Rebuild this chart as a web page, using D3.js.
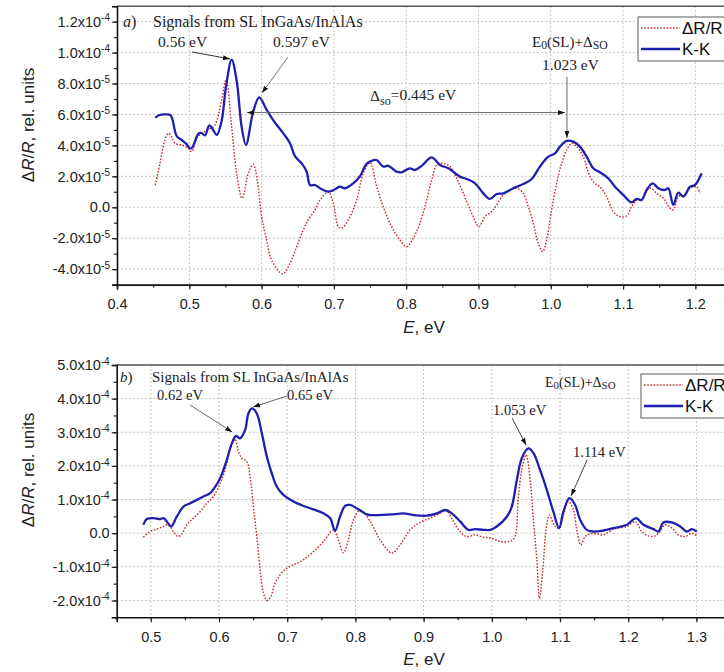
<!DOCTYPE html>
<html><head><meta charset="utf-8">
<script src="https://cdn.jsdelivr.net/npm/d3@7"></script>
<style>
html,body{margin:0;padding:0;background:#fff;}
svg{display:block;}
</style>
</head><body>
<svg id="chart" width="724" height="672"></svg>
<script>
// ---------- DATA ----------
// Panel a) : energy (eV) and values in units of 1e-5
const aKK_E = [0.453,0.458,0.466,0.474,0.4826,0.4895,0.496,0.501,0.5045,0.5125,0.517,0.5217,0.5277,0.533,0.538,0.5448,0.5508,0.5586,0.5655,0.5724,0.5784,0.5885,0.5968,0.607,0.616,0.63,0.6393,0.6462,0.6555,0.6624,0.667,0.6739,0.6808,0.6923,0.6992,0.7084,0.7154,0.7268,0.736,0.745,0.752,0.7592,0.7683,0.7753,0.7868,0.7937,0.8052,0.8122,0.8214,0.8353,0.8467,0.8583,0.8744,0.8836,0.8952,0.9067,0.9159,0.9252,0.9344,0.9481,0.962,0.9736,0.985,0.9966,1.0058,1.0127,1.022,1.0311,1.0404,1.0496,1.0588,1.068,1.0796,1.0888,1.1003,1.1119,1.1188,1.1257,1.1326,1.141,1.1487,1.158,1.1626,1.1695,1.1764,1.1833,1.1926,1.1995,1.2087];
const aKK_V = [5.8,5.95,6.0,5.95,4.6,4.35,4.1,3.8,3.9,4.75,4.8,4.65,5.3,5.0,4.67,5.6,7.8,9.55,8.2,5.2,4.03,6.2,7.1,6.3,5.64,4.78,4.14,3.3,2.84,2.3,1.44,1.44,1.23,1.01,1.1,1.33,1.23,1.55,2.0,2.8,3.0,3.05,2.63,2.68,2.3,2.26,2.52,2.41,2.68,3.23,2.73,2.52,1.98,1.83,1.55,0.9,0.54,0.86,0.9,1.23,1.5,1.83,2.63,3.27,3.48,3.92,4.29,4.24,3.92,3.27,2.52,2.26,1.87,1.33,0.8,0.32,0.54,0.47,1.12,1.55,1.23,1.12,1.23,0.15,0.94,0.69,1.33,1.44,2.2];
const aDR_E = [0.453,0.4595,0.4664,0.471,0.4756,0.4802,0.4895,0.4986,0.5033,0.5102,0.5171,0.525,0.535,0.545,0.551,0.558,0.5655,0.5733,0.5816,0.5885,0.594,0.6,0.607,0.6138,0.6292,0.6393,0.6485,0.6577,0.6646,0.6739,0.6808,0.6923,0.6992,0.7061,0.7107,0.72,0.7315,0.7407,0.75,0.7592,0.7683,0.7798,0.7914,0.8006,0.8098,0.8191,0.8283,0.8353,0.8422,0.851,0.8606,0.8698,0.879,0.8906,0.9007,0.909,0.9182,0.9252,0.9344,0.9436,0.9528,0.962,0.9688,0.9758,0.9827,0.9888,0.9942,1.0012,1.0081,1.015,1.022,1.0289,1.0358,1.045,1.0542,1.0611,1.068,1.0773,1.0865,1.0957,1.105,1.1119,1.1188,1.1257,1.1372,1.1465,1.1557,1.1649,1.1695,1.1764,1.1856,1.1926,1.2018,1.2064];
const aDR_V = [1.44,2.84,4.35,4.78,4.56,4.14,4.03,3.81,3.6,4.46,4.78,5.0,5.3,7.0,8.3,5.5,2.2,0.58,2.2,2.78,1.76,-0.6,-2.11,-3.41,-4.31,-3.62,-2.55,-1.47,-0.82,-0.17,0.47,1.0,0.26,-1.25,-1.36,-0.82,0.47,2.2,2.9,1.33,0.04,-1.25,-2.11,-2.55,-2.0,-1.03,0.47,1.76,2.73,2.84,2.63,1.87,0.9,-0.39,-1.25,-0.6,-0.28,0.15,0.8,1.12,1.23,0.9,0.04,-1.03,-2.33,-2.87,-2.11,-0.17,1.55,2.84,3.7,4.14,3.92,3.27,1.98,1.55,1.33,0.69,-0.28,-0.6,-0.56,0.04,0.47,0.54,1.23,0.9,0.58,-0.06,-0.17,0.69,0.8,1.23,1.33,0.9];

// Panel b) : energy (eV) and values in units of 1e-4
const bKK_E = [0.4891,0.4941,0.5038,0.5136,0.5185,0.5235,0.5298,0.5381,0.5478,0.5576,0.5675,0.5771,0.587,0.5943,0.6016,0.6114,0.6188,0.6251,0.6309,0.6383,0.6431,0.6481,0.6554,0.6628,0.6701,0.6774,0.6848,0.6944,0.7091,0.7238,0.7384,0.7531,0.7629,0.7702,0.7776,0.7849,0.7922,0.802,0.8167,0.8216,0.8557,0.8704,0.885,0.9047,0.9194,0.9315,0.9413,0.9535,0.9657,0.9755,0.9877,0.9975,1.0073,1.022,1.0293,1.0367,1.044,1.0537,1.0611,1.0708,1.0806,1.0903,1.0987,1.105,1.1138,1.1222,1.1295,1.1393,1.149,1.1637,1.1783,1.198,1.2116,1.2223,1.237,1.2443,1.2516,1.2639,1.2761,1.2859,1.2932,1.3006];
const bKK_V = [0.25,0.42,0.45,0.42,0.45,0.35,0.2,0.49,0.79,0.89,0.99,1.09,1.19,1.38,1.63,2.18,2.67,2.89,2.82,3.07,3.56,3.71,3.56,2.97,2.28,1.78,1.38,1.14,0.94,0.81,0.71,0.59,0.45,0.07,0.5,0.81,0.84,0.74,0.56,0.54,0.56,0.59,0.54,0.52,0.59,0.69,0.59,0.35,0.1,0.12,0.1,0.1,0.2,0.49,0.79,1.58,2.23,2.52,2.38,1.88,1.29,0.64,0.15,0.64,1.04,0.84,0.4,0.1,0.05,0.08,0.15,0.25,0.45,0.25,0.12,0.05,0.32,0.32,0.2,0.05,0.12,0.05];
const bDR_E = [0.4891,0.499,0.5088,0.5185,0.5258,0.5331,0.5396,0.5455,0.5528,0.5625,0.5723,0.5821,0.5918,0.6016,0.6089,0.6163,0.6236,0.6285,0.6334,0.6408,0.6456,0.6504,0.6554,0.6603,0.6651,0.6701,0.676,0.6823,0.6896,0.6994,0.7091,0.7238,0.7384,0.7531,0.7678,0.7751,0.7824,0.7897,0.7971,0.8069,0.8216,0.8362,0.8534,0.8655,0.8802,0.8949,0.9095,0.9242,0.9331,0.9437,0.9535,0.9633,0.9755,0.9877,1.0,1.0122,1.0244,1.0328,1.039,1.044,1.0503,1.0562,1.061,1.066,1.0698,1.0748,1.0796,1.0845,1.0927,1.0987,1.105,1.1123,1.1197,1.1246,1.1305,1.1368,1.1441,1.1539,1.1637,1.1783,1.198,1.2101,1.22,1.2296,1.2394,1.2467,1.2541,1.2639,1.2736,1.2834,1.2932,1.3006];
const bDR_V = [-0.12,0.05,0.12,0.2,0.25,0.05,-0.1,-0.02,0.25,0.45,0.64,0.89,1.09,1.48,1.88,2.48,2.79,2.42,2.23,2.13,1.68,0.79,-0.1,-1.09,-1.78,-2.0,-1.88,-1.48,-1.24,-1.04,-0.94,-0.79,-0.55,-0.25,0.1,-0.2,-0.58,-0.2,0.4,0.69,0.35,-0.2,-0.59,-0.35,0.1,0.32,0.45,0.59,0.67,0.35,0.05,-0.1,-0.05,-0.12,-0.15,-0.25,-0.25,-0.15,1.09,1.88,2.33,1.58,0.4,-0.79,-1.93,-1.09,0.1,0.54,0.2,0.15,0.54,0.94,0.69,0.1,-0.35,-0.1,-0.02,-0.02,-0.05,0.12,0.2,0.35,0.05,-0.08,-0.08,0.05,0.25,0.15,-0.05,-0.1,0,-0.08];

// Ticks
const aXTicks = [0.4,0.5,0.6,0.7,0.8,0.9,1.0,1.1,1.2];
const aXTickLabels = ["0.4","0.5","0.6","0.7","0.8","0.9","1.0","1.1","1.2"];
const aYTicks = [-4,-2,0,2,4,6,8,10,12];
const aYTickMant = ["-4.0","-2.0","0.0","2.0","4.0","6.0","8.0","1.0","1.2"];
const aYTickExp  = ["-5","-5","","-5","-5","-5","-5","-4","-4"];
const bXTicks = [0.5,0.6,0.7,0.8,0.9,1.0,1.1,1.2,1.3];
const bXTickLabels = ["0.5","0.6","0.7","0.8","0.9","1.0","1.1","1.2","1.3"];
const bYTicks = [-2,-1,0,1,2,3,4,5];
const bYTickMant = ["-2.0","-1.0","0.0","1.0","2.0","3.0","4.0","5.0"];
const bYTickExp  = ["-4","-4","","-4","-4","-4","-4","-4"];

const seriesNames = ["\u0394R/R","K-K"];

// ---------- DRAW ----------
const svg = d3.select("#chart");
const SANS = "'Liberation Sans', Arial, sans-serif";
const SERIF = "'Liberation Serif', 'Times New Roman', serif";
const RED = "#c62a2f", BLUE = "#1f1fb0";

const defs = svg.append("defs");
defs.append("marker").attr("id","ah").attr("viewBox","0 0 10 10").attr("refX",10).attr("refY",5)
  .attr("markerWidth",7).attr("markerHeight",7).attr("orient","auto-start-reverse").attr("markerUnits","userSpaceOnUse")
  .append("path").attr("d","M0,1.5 L10,5 L0,8.5 Z").attr("fill","#111");

function panel(cfg){
  const g = svg.append("g");
  const x = d3.scaleLinear().domain(cfg.xDomain).range(cfg.xRange);
  const y = d3.scaleLinear().domain(cfg.yDomain).range(cfg.yRange);
  const [x0,x1] = cfg.xRange, [yb,yt] = cfg.yRange;
  // grid
  g.append("g").selectAll("line").data(cfg.xTicks.filter(d=>x(d)>x0+1)).join("line")
    .attr("x1",d=>x(d)).attr("x2",d=>x(d)).attr("y1",yt).attr("y2",yb)
    .attr("stroke","#c4c4c4").attr("stroke-width",1).attr("stroke-dasharray","2,2");
  g.append("g").selectAll("line").data(cfg.yTicks).join("line")
    .attr("x1",x0).attr("x2",x1).attr("y1",d=>y(d)).attr("y2",d=>y(d))
    .attr("stroke","#c4c4c4").attr("stroke-width",1).attr("stroke-dasharray","2,2");
  // frame top
  g.append("line").attr("x1",x0).attr("x2",x1+5).attr("y1",yt).attr("y2",yt).attr("stroke","#555").attr("stroke-width",1.5);
  // lines
  const line = d3.line().x(d=>x(d[0])).y(d=>y(d[1])).curve(d3.curveCatmullRom.alpha(0.5));
  const red = cfg.drE.map((e,i)=>[e,cfg.drV[i]]);
  const blue = cfg.kkE.map((e,i)=>[e,cfg.kkV[i]]);
  g.append("path").datum(red).attr("d",line).attr("fill","none").attr("stroke",RED).attr("stroke-width",1.4).attr("stroke-dasharray","1.6,1.6");
  g.append("path").datum(blue).attr("d",line).attr("fill","none").attr("stroke",BLUE).attr("stroke-width",2.3);
  // axes
  const xMinor = d3.range(cfg.xDomain[0], cfg.xDomain[1]+1e-9, 0.05).map(v=>+v.toFixed(3));
  g.append("g").attr("transform",`translate(0,${yb})`)
    .call(d3.axisBottom(x).tickValues(xMinor).tickSize(3).tickFormat(""))
    .call(a=>a.select(".domain").remove()).selectAll("line").attr("stroke","#222").attr("stroke-width",1.2);
  const xa = g.append("g").attr("transform",`translate(0,${yb})`)
    .call(d3.axisBottom(x).tickValues(cfg.xTicks).tickSize(5).tickPadding(6).tickFormat((d,i)=>cfg.xTickLabels[i]));
  xa.select(".domain").attr("stroke","#111").attr("stroke-width",1.6);
  xa.selectAll("line").attr("stroke","#222").attr("stroke-width",1.2);
  xa.selectAll("text").attr("font-family",SANS).attr("font-size",14.5).attr("fill","#222").attr("dy","0.95em");
  const yMinor = d3.range(cfg.yDomain[0], cfg.yDomain[1]+1e-9, cfg.yMinorStep);
  g.append("g").attr("transform",`translate(${x0},0)`)
    .call(d3.axisLeft(y).tickValues(yMinor).tickSize(3).tickFormat(""))
    .call(a=>a.select(".domain").remove()).selectAll("line").attr("stroke","#222").attr("stroke-width",1.2);
  const ya = g.append("g").attr("transform",`translate(${x0},0)`)
    .call(d3.axisLeft(y).tickValues(cfg.yTicks).tickSize(5).tickFormat(""));
  ya.select(".domain").attr("stroke","#111").attr("stroke-width",1.6);
  ya.selectAll("line").attr("stroke","#222").attr("stroke-width",1.2);
  const yl = g.append("g").selectAll("text").data(cfg.yTicks).join("text")
    .attr("x",x0-7).attr("y",d=>y(d)).attr("dy","0.36em").attr("text-anchor","end")
    .attr("font-family",SANS).attr("font-size",14.5).attr("fill","#222");
  yl.each(function(d,i){
    const t = d3.select(this);
    if(cfg.yExp[i]===""){ t.text(cfg.yMant[i]); return; }
    t.append("tspan").text(cfg.yMant[i]+"x10");
    t.append("tspan").attr("dy","-0.55em").attr("font-size",10).text(cfg.yExp[i]);
  });
  // axis titles
  const xt = g.append("text").attr("x",cfg.xTitle[0]).attr("y",cfg.xTitle[1]).attr("text-anchor","middle")
    .attr("font-family",SANS).attr("font-size",17).attr("fill","#222");
  xt.append("tspan").attr("font-style","italic").text("E");
  xt.append("tspan").text(", eV");
  const yt2 = g.append("text").attr("transform",`translate(${cfg.yTitle[0]},${cfg.yTitle[1]}) rotate(-90)`).attr("text-anchor","middle")
    .attr("font-family",SANS).attr("font-size",17).attr("fill","#222");
  yt2.append("tspan").text("\u0394");
  yt2.append("tspan").attr("font-style","italic").text("R");
  yt2.append("tspan").text("/");
  yt2.append("tspan").attr("font-style","italic").text("R");
  yt2.append("tspan").text(", rel. units");
  // legend
  const L = cfg.legend;
  g.append("rect").attr("x",L.x).attr("y",L.y).attr("width",120).attr("height",44)
    .attr("fill","#fff").attr("stroke","#777").attr("stroke-width",1.2);
  g.append("line").attr("x1",L.x+3).attr("x2",L.x+42).attr("y1",L.y+11).attr("y2",L.y+11)
    .attr("stroke",RED).attr("stroke-width",1.4).attr("stroke-dasharray","1.6,1.6");
  g.append("line").attr("x1",L.x+3).attr("x2",L.x+42).attr("y1",L.y+32).attr("y2",L.y+32)
    .attr("stroke",BLUE).attr("stroke-width",2.4);
  g.append("text").attr("x",L.x+44).attr("y",L.y+17).attr("font-family",SANS).attr("font-size",17).attr("fill","#111").text(seriesNames[0]);
  g.append("text").attr("x",L.x+44).attr("y",L.y+38).attr("font-family",SANS).attr("font-size",17).attr("fill","#111").text(seriesNames[1]);
  // annotations
  cfg.arrows.forEach(a=>{
    g.append("line").attr("x1",x(a[0])).attr("y1",y(a[1])).attr("x2",x(a[2])).attr("y2",y(a[3]))
      .attr("stroke",a[4]||"#666").attr("stroke-width",1)
      .attr("marker-end","url(#ah)").attr("marker-start",a[5]?"url(#ah)":null);
  });
  cfg.texts.forEach(t=>{
    const el = g.append("text").attr("x",t.x).attr("y",t.y).attr("font-family",SERIF).attr("font-size",t.size).attr("fill","#222");
    t.parts.forEach(p=>{
      const sp = el.append("tspan").text(p.s);
      if(p.it) sp.attr("font-style","italic");
      if(p.sub){ sp.attr("dy",p.sub).attr("font-size",t.size*0.78); }
      if(p.back){ sp.attr("dy",p.back); }
    });
  });
  return {x,y};
}

panel({
  xDomain:[0.4,1.25], xRange:[117,731.5], yDomain:[-5,13], yRange:[284.6,6.2], yMinorStep:1,
  xTicks:aXTicks, xTickLabels:aXTickLabels, yTicks:aYTicks, yMant:aYTickMant, yExp:aYTickExp,
  kkE:aKK_E, kkV:aKK_V, drE:aDR_E, drV:aDR_V,
  xTitle:[424,333], yTitle:[34,125],
  legend:{x:638,y:17},
  arrows:[[0.5037,10.04,0.5563,9.59,"#333"],[0.6365,9.71,0.6006,7.39,"#777"],[0.5798,6.12,1.0197,6.12,"#666",true],[1.0224,8.42,1.0224,4.48,"#666"]],
  texts:[
    {x:123,y:27,size:16,parts:[{s:"a",it:true},{s:")"}]},
    {x:153,y:27,size:16,parts:[{s:"Signals from SL InGaAs/InAlAs"}]},
    {x:158,y:47,size:15.5,parts:[{s:"0.56 eV"}]},
    {x:273,y:47,size:15.5,parts:[{s:"0.597 eV"}]},
    {x:532,y:47,size:15,parts:[{s:"E"},{s:"0",sub:"0.15em"},{s:"(SL)+\u0394",back:"-0.15em"},{s:"SO",sub:"0.2em"}]},
    {x:542,y:70,size:15.5,parts:[{s:"1.023 eV"}]},
    {x:370,y:101,size:15.5,parts:[{s:"\u0394"},{s:"so",sub:"0.3em"},{s:"=0.445 eV",back:"-0.3em"}]}
  ]
});

panel({
  xDomain:[0.45,1.35], xRange:[116.7,730.5], yDomain:[-2.5,5], yRange:[617.3,365], yMinorStep:0.5,
  xTicks:bXTicks, xTickLabels:bXTickLabels, yTicks:bYTicks, yMant:bYTickMant, yExp:bYTickExp,
  kkE:bKK_E, kkV:bKK_V, drE:bDR_E, drV:bDR_V,
  xTitle:[424,665], yTitle:[34,470],
  legend:{x:641,y:374},
  arrows:[[0.5576,3.81,0.6192,3.01,"#666"],[0.6999,4.08,0.65,3.75,"#666"],[1.0298,3.42,1.0503,2.62,"#444"],[1.1398,2.18,1.1164,1.11,"#444"]],
  texts:[
    {x:120,y:382,size:15,parts:[{s:"b",it:true},{s:")"}]},
    {x:152,y:382,size:15,parts:[{s:"Signals from SL InGaAs/InAlAs"}]},
    {x:157,y:400,size:14.5,parts:[{s:"0.62 eV"}]},
    {x:287,y:400,size:14.5,parts:[{s:"0.65 eV"}]},
    {x:545,y:387,size:14,parts:[{s:"E"},{s:"0",sub:"0.15em"},{s:"(SL)+\u0394",back:"-0.15em"},{s:"SO",sub:"0.2em"}]},
    {x:493,y:415,size:14.5,parts:[{s:"1.053 eV"}]},
    {x:573,y:457,size:14.5,parts:[{s:"1.114 eV"}]}
  ]
});
</script>
</body></html>
